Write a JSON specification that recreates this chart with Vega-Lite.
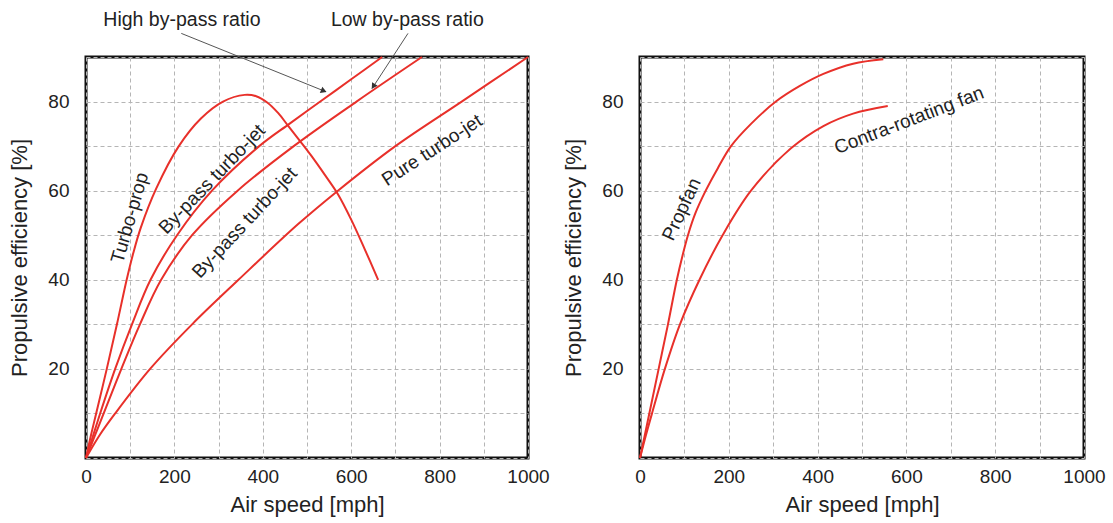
{
  "$schema": "https://vega.github.io/schema/vega-lite/v6.json",
  "background": "white",
  "padding": {"left": 7, "top": 8, "right": 5, "bottom": 5},
  "spacing": 112,
  "bounds": "flush",
  "config": {
    "font": "Liberation Sans",
    "view": {"stroke": "#111", "strokeWidth": 3},
    "axis": {
      "domain": false,
      "ticks": false,
      "grid": true,
      "gridColor": "#b5b5b5",
      "gridDash": [4, 3],
      "gridWidth": 1,
      "labelFont": "Liberation Sans",
      "labelFontSize": 19,
      "labelColor": "#222",
      "labelOverlap": false,
      "labelFlush": false,
      "titleFont": "Liberation Sans",
      "titleFontSize": 22,
      "titleFontWeight": "normal",
      "titleColor": "#222"
    }
  },
  "datasets": {
    "left_lines": [
      {"series": "Turbo-prop", "x": 0, "y": 0},
      {"series": "Turbo-prop", "x": 11, "y": 5},
      {"series": "Turbo-prop", "x": 23, "y": 10},
      {"series": "Turbo-prop", "x": 47, "y": 20},
      {"series": "Turbo-prop", "x": 70, "y": 30},
      {"series": "Turbo-prop", "x": 92, "y": 40},
      {"series": "Turbo-prop", "x": 107, "y": 46},
      {"series": "Turbo-prop", "x": 124, "y": 51.7},
      {"series": "Turbo-prop", "x": 159, "y": 60.5},
      {"series": "Turbo-prop", "x": 210, "y": 70},
      {"series": "Turbo-prop", "x": 260, "y": 76.2},
      {"series": "Turbo-prop", "x": 310, "y": 80},
      {"series": "Turbo-prop", "x": 359, "y": 81.5},
      {"series": "Turbo-prop", "x": 385, "y": 81.2},
      {"series": "Turbo-prop", "x": 410, "y": 79.8},
      {"series": "Turbo-prop", "x": 435, "y": 77.4},
      {"series": "Turbo-prop", "x": 457, "y": 74.6},
      {"series": "Turbo-prop", "x": 483, "y": 71.3},
      {"series": "Turbo-prop", "x": 510, "y": 67.8},
      {"series": "Turbo-prop", "x": 540, "y": 63.6},
      {"series": "Turbo-prop", "x": 570, "y": 59.2},
      {"series": "Turbo-prop", "x": 600, "y": 53.5},
      {"series": "Turbo-prop", "x": 630, "y": 47},
      {"series": "Turbo-prop", "x": 661, "y": 40},
      {"series": "High by-pass", "x": 0, "y": 0},
      {"series": "High by-pass", "x": 16, "y": 5},
      {"series": "High by-pass", "x": 32, "y": 10},
      {"series": "High by-pass", "x": 66, "y": 20},
      {"series": "High by-pass", "x": 104, "y": 30},
      {"series": "High by-pass", "x": 146, "y": 40},
      {"series": "High by-pass", "x": 206, "y": 50},
      {"series": "High by-pass", "x": 285, "y": 60},
      {"series": "High by-pass", "x": 392, "y": 70},
      {"series": "High by-pass", "x": 460, "y": 75},
      {"series": "High by-pass", "x": 530, "y": 80},
      {"series": "High by-pass", "x": 600, "y": 85},
      {"series": "High by-pass", "x": 670, "y": 90},
      {"series": "Low by-pass", "x": 0, "y": 0},
      {"series": "Low by-pass", "x": 20, "y": 5},
      {"series": "Low by-pass", "x": 40, "y": 10},
      {"series": "Low by-pass", "x": 80, "y": 20},
      {"series": "Low by-pass", "x": 122, "y": 30},
      {"series": "Low by-pass", "x": 170, "y": 40},
      {"series": "Low by-pass", "x": 240, "y": 50},
      {"series": "Low by-pass", "x": 343, "y": 60},
      {"series": "Low by-pass", "x": 470, "y": 70},
      {"series": "Low by-pass", "x": 612, "y": 80},
      {"series": "Low by-pass", "x": 760, "y": 90},
      {"series": "Pure turbo-jet", "x": 0, "y": 0},
      {"series": "Pure turbo-jet", "x": 30, "y": 5},
      {"series": "Pure turbo-jet", "x": 66, "y": 10},
      {"series": "Pure turbo-jet", "x": 145, "y": 20},
      {"series": "Pure turbo-jet", "x": 240, "y": 30},
      {"series": "Pure turbo-jet", "x": 345, "y": 40},
      {"series": "Pure turbo-jet", "x": 480, "y": 52.5},
      {"series": "Pure turbo-jet", "x": 570, "y": 60},
      {"series": "Pure turbo-jet", "x": 700, "y": 70},
      {"series": "Pure turbo-jet", "x": 850, "y": 80},
      {"series": "Pure turbo-jet", "x": 1000, "y": 90}
    ],
    "right_lines": [
      {"series": "Propfan", "x": 0, "y": 0},
      {"series": "Propfan", "x": 21, "y": 10},
      {"series": "Propfan", "x": 42, "y": 20},
      {"series": "Propfan", "x": 63, "y": 30},
      {"series": "Propfan", "x": 83, "y": 40},
      {"series": "Propfan", "x": 96, "y": 45.5},
      {"series": "Propfan", "x": 108, "y": 50},
      {"series": "Propfan", "x": 125, "y": 55},
      {"series": "Propfan", "x": 148, "y": 60},
      {"series": "Propfan", "x": 175, "y": 65},
      {"series": "Propfan", "x": 205, "y": 70},
      {"series": "Propfan", "x": 250, "y": 75},
      {"series": "Propfan", "x": 306, "y": 80},
      {"series": "Propfan", "x": 360, "y": 83.5},
      {"series": "Propfan", "x": 413, "y": 86.2},
      {"series": "Propfan", "x": 480, "y": 88.5},
      {"series": "Propfan", "x": 548, "y": 89.5},
      {"series": "Contra-rotating fan", "x": 0, "y": 0},
      {"series": "Contra-rotating fan", "x": 13, "y": 5},
      {"series": "Contra-rotating fan", "x": 27, "y": 10},
      {"series": "Contra-rotating fan", "x": 56, "y": 20},
      {"series": "Contra-rotating fan", "x": 90, "y": 30},
      {"series": "Contra-rotating fan", "x": 134, "y": 40},
      {"series": "Contra-rotating fan", "x": 186, "y": 50},
      {"series": "Contra-rotating fan", "x": 250, "y": 60},
      {"series": "Contra-rotating fan", "x": 340, "y": 69.5},
      {"series": "Contra-rotating fan", "x": 413, "y": 74.5},
      {"series": "Contra-rotating fan", "x": 480, "y": 77.3},
      {"series": "Contra-rotating fan", "x": 558, "y": 79}
    ],
    "left_labels": [
      {"id": "turboprop", "label": "Turbo-prop", "x": 99, "y": 53.9},
      {"id": "bypass_high", "label": "By-pass turbo-jet", "x": 285, "y": 62.6},
      {"id": "bypass_low", "label": "By-pass turbo-jet", "x": 359, "y": 52.8},
      {"id": "pure", "label": "Pure turbo-jet", "x": 783, "y": 69.1},
      {"id": "top", "label": "High by-pass ratio", "x": 217, "y": 98.3},
      {"id": "top", "label": "Low by-pass ratio", "x": 727, "y": 98.3}
    ],
    "right_labels": [
      {"id": "propfan", "label": "Propfan", "x": 94, "y": 55.8},
      {"id": "contra", "label": "Contra-rotating fan", "x": 606, "y": 75.8}
    ],
    "arrows": [
      {"id": "high", "x": 215.6, "y": 95.3, "x2": 543, "y2": 82.2},
      {"id": "low", "x": 728.5, "y": 95.3, "x2": 647, "y2": 82.9}
    ],
    "arrowheads": [
      {"id": "high", "x": 538, "y": 82.4},
      {"id": "low", "x": 650, "y": 83.4}
    ]
  },
  "hconcat": [
    {
      "width": 442,
      "height": 401,
      "encoding": {
        "x": {"field": "x", "type": "quantitative",
              "scale": {"domain": [0, 1000], "nice": false, "zero": false},
              "axis": {"title": "Air speed [mph]", "format": "d", "values": [0,100,200,300,400,500,600,700,800,900,1000],
                       "labelExpr": "datum.value % 200 === 0 ? datum.label : ''", "labelPadding": 9, "titlePadding": 8}},
        "y": {"field": "y", "type": "quantitative",
              "scale": {"domain": [0, 90], "nice": false, "zero": false},
              "axis": {"title": "Propulsive efficiency [%]", "values": [0,10,20,30,40,50,60,70,80,90],
                       "labelExpr": "datum.value % 20 === 0 && datum.value > 0 ? datum.label : ''", "labelPadding": 17, "titlePadding": 16}}
      },
      "layer": [
        {"data": {"name": "left_lines"},
         "mark": {"type": "line", "color": "#e8302a", "strokeWidth": 2, "interpolate": "catmull-rom"},
         "encoding": {"detail": {"field": "series"}}},
        {"data": {"name": "arrows"},
         "mark": {"type": "rule", "color": "#555", "strokeWidth": 1},
         "encoding": {"x2": {"field": "x2"}, "y2": {"field": "y2"}}},
        {"data": {"name": "arrowheads"}, "transform": [{"filter": "datum.id === 'high'"}],
         "mark": {"type": "point", "shape": "triangle-up", "angle": 112, "filled": true, "color": "#333", "size": 45, "opacity": 1}},
        {"data": {"name": "arrowheads"}, "transform": [{"filter": "datum.id === 'low'"}],
         "mark": {"type": "point", "shape": "triangle-up", "angle": 213, "filled": true, "color": "#333", "size": 45, "opacity": 1}},
        {"data": {"name": "left_labels"}, "transform": [{"filter": "datum.id === 'turboprop'"}],
         "mark": {"type": "text", "angle": -74, "fontSize": 19, "align": "center", "baseline": "middle", "color": "#222"},
         "encoding": {"text": {"field": "label"}}},
        {"data": {"name": "left_labels"}, "transform": [{"filter": "datum.id === 'bypass_high'"}],
         "mark": {"type": "text", "angle": -46, "fontSize": 19, "align": "center", "baseline": "middle", "color": "#222"},
         "encoding": {"text": {"field": "label"}}},
        {"data": {"name": "left_labels"}, "transform": [{"filter": "datum.id === 'bypass_low'"}],
         "mark": {"type": "text", "angle": -47, "fontSize": 19, "align": "center", "baseline": "middle", "color": "#222"},
         "encoding": {"text": {"field": "label"}}},
        {"data": {"name": "left_labels"}, "transform": [{"filter": "datum.id === 'pure'"}],
         "mark": {"type": "text", "angle": -33, "fontSize": 19, "align": "center", "baseline": "middle", "color": "#222"},
         "encoding": {"text": {"field": "label"}}},
        {"data": {"name": "left_labels"}, "transform": [{"filter": "datum.id === 'top'"}],
         "mark": {"type": "text", "angle": 0, "fontSize": 19.5, "align": "center", "baseline": "middle", "color": "#222"},
         "encoding": {"text": {"field": "label"}}}
      ]
    },
    {
      "width": 444,
      "height": 401,
      "encoding": {
        "x": {"field": "x", "type": "quantitative",
              "scale": {"domain": [0, 1000], "nice": false, "zero": false},
              "axis": {"title": "Air speed [mph]", "format": "d", "values": [0,100,200,300,400,500,600,700,800,900,1000],
                       "labelExpr": "datum.value % 200 === 0 ? datum.label : ''", "labelPadding": 9, "titlePadding": 8}},
        "y": {"field": "y", "type": "quantitative",
              "scale": {"domain": [0, 90], "nice": false, "zero": false},
              "axis": {"title": "Propulsive efficiency [%]", "values": [0,10,20,30,40,50,60,70,80,90],
                       "labelExpr": "datum.value % 20 === 0 && datum.value > 0 ? datum.label : ''", "labelPadding": 17, "titlePadding": 16}}
      },
      "layer": [
        {"data": {"name": "right_lines"},
         "mark": {"type": "line", "color": "#e8302a", "strokeWidth": 2, "interpolate": "catmull-rom"},
         "encoding": {"detail": {"field": "series"}}},
        {"data": {"name": "right_labels"}, "transform": [{"filter": "datum.id === 'propfan'"}],
         "mark": {"type": "text", "angle": -65, "fontSize": 19, "align": "center", "baseline": "middle", "color": "#222"},
         "encoding": {"text": {"field": "label"}}},
        {"data": {"name": "right_labels"}, "transform": [{"filter": "datum.id === 'contra'"}],
         "mark": {"type": "text", "angle": -21, "fontSize": 19, "align": "center", "baseline": "middle", "color": "#222"},
         "encoding": {"text": {"field": "label"}}}
      ]
    }
  ]
}
